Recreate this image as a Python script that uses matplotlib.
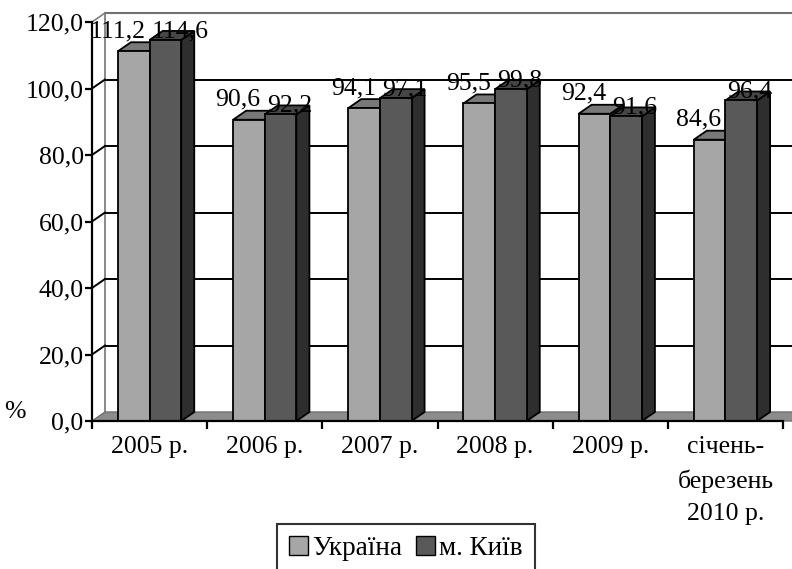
import matplotlib as mpl
mpl.use('agg')
import matplotlib.pyplot as plt
from matplotlib.patches import Polygon, Patch
from matplotlib.ticker import FuncFormatter, FixedLocator

## data
categories = ['2005 р.', '2006 р.', '2007 р.', '2008 р.', '2009 р.', 'січень-\nберезень\n2010 р.']
ukraine = [111.2, 90.6, 94.1, 95.5, 92.4, 84.6]
kyiv = [114.6, 92.2, 97.1, 99.8, 91.6, 96.4]
series_names = ['Україна', 'м. Київ']
yticks = [0, 20, 40, 60, 80, 100, 120]

plt.rcParams['font.family'] = ['Liberation Serif', 'DejaVu Serif']
FS = 18.5

fig = plt.figure(figsize=(7.92, 5.69), dpi=100)
ax = fig.add_axes([92/792, 1 - 421/569, 691/792, 399/569])
ax.set_xlim(0, 6)
ax.set_ylim(0, 120)

## depth of the 3d look, in data units
px_x = 6 / 691.0
px_y = 120 / 399.0
DX = 13 * px_x
DY = 9 * px_y
w = 0.275

# back wall, left wall, floor
xr = 6 + DX + 0.3
ax.plot([DX, DX], [DY, 120 + DY], color='#808080', lw=1.3, zorder=1, clip_on=False)
ax.plot([DX, xr], [120 + DY, 120 + DY], color='#707070', lw=1.5, zorder=1, clip_on=False)
ax.plot([0, DX], [120, 120 + DY], color='#808080', lw=1.2, zorder=1, clip_on=False)
for v in yticks[1:-1]:
    ax.plot([DX, xr], [v + DY, v + DY], color='black', lw=1.4, zorder=1, clip_on=False)
    ax.plot([0, DX], [v, v + DY], color='black', lw=1.4, zorder=1, clip_on=False)
floor = Polygon([(0, 0), (xr, 0), (xr + DX, DY), (DX, DY)], closed=True,
                facecolor='#8c8c8c', edgecolor='#6e6e6e', lw=1.0, zorder=2, clip_on=False)
ax.add_patch(floor)

def bar3d(x0, val, front, top, side):
    pts_front = [(x0, 0), (x0 + w, 0), (x0 + w, val), (x0, val)]
    pts_top = [(x0, val), (x0 + w, val), (x0 + w + DX, val + DY), (x0 + DX, val + DY)]
    pts_side = [(x0 + w, 0), (x0 + w + DX, DY), (x0 + w + DX, val + DY), (x0 + w, val)]
    for pts, c in [(pts_side, side), (pts_top, top), (pts_front, front)]:
        ax.add_patch(Polygon(pts, closed=True, facecolor=c, edgecolor='black',
                             lw=1.3, zorder=3, clip_on=False, joinstyle='miter'))

for i in range(len(categories)):
    c = i + 0.5
    bar3d(c - w, ukraine[i], '#a6a6a6', '#787878', '#5c5c5c')
    bar3d(c, kyiv[i], '#595959', '#464646', '#2e2e2e')
    # labels: right-align the first, left-align the second so they do not collide
    ax.text(c - 4 * px_x, ukraine[i] + 14 * px_y, f'{ukraine[i]:.1f}'.replace('.', ','),
            ha='right', va='baseline', fontsize=FS, zorder=5)
    ax.text(c + 2 * px_x, kyiv[i] + 3 * px_y, f'{kyiv[i]:.1f}'.replace('.', ','),
            ha='left', va='baseline', fontsize=FS, zorder=5)

# axes look
for s in ['top', 'right']:
    ax.spines[s].set_visible(False)
for s in ['left', 'bottom']:
    ax.spines[s].set_linewidth(1.6)
    ax.spines[s].set_zorder(4)
ax.set_yticks(yticks)
ax.yaxis.set_major_formatter(FuncFormatter(lambda v, p: f'{v:.1f}'.replace('.', ',')))
ax.tick_params(axis='y', direction='out', length=5, width=1.6, pad=1, labelsize=FS)
ax.xaxis.set_major_locator(FixedLocator(range(7)))
ax.xaxis.set_major_formatter(FuncFormatter(lambda v, p: ''))
ax.xaxis.set_minor_locator(FixedLocator([i + 0.5 for i in range(6)]))
ax.set_xticklabels(categories, minor=True, fontsize=FS, linespacing=1.6, va='top')
ax.tick_params(axis='x', which='major', direction='out', length=6, width=1.6)
ax.tick_params(axis='x', which='minor', length=0, pad=11)
ax.patch.set_visible(False)

fig.text(15/792, 1 - 412/569, '%', fontsize=FS, ha='center', va='center')

handles = [Patch(facecolor='#a6a6a6', edgecolor='black', lw=1.0),
           Patch(facecolor='#595959', edgecolor='black', lw=1.0)]
leg = fig.legend(handles, series_names, loc='upper center', bbox_to_anchor=(406/792, 1 - 524/569),
                 ncol=2, fontsize=19.5, frameon=True, fancybox=False, handlelength=0.7,
                 handleheight=0.7, handletextpad=0.15, columnspacing=0.5, borderpad=0.45,
                 borderaxespad=0)
leg.get_frame().set_edgecolor('black')
leg.get_frame().set_linewidth(1.5)

fig.savefig('out.png', dpi=100)
